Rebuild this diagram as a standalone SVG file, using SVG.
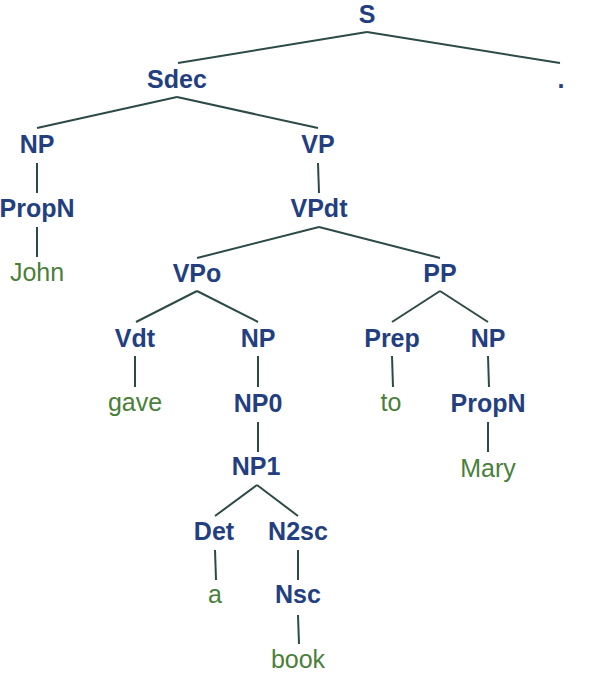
<svg xmlns="http://www.w3.org/2000/svg" width="595" height="681" viewBox="0 0 595 681">
<style>
.c{font-family:"Liberation Sans",Arial,sans-serif;font-size:25px;font-weight:bold;fill:#243f80;text-anchor:middle}
.w{font-family:"Liberation Sans",Arial,sans-serif;font-size:25px;fill:#4a7f3a;text-anchor:middle}
#edges line{stroke:#2c4a47;stroke-width:2;stroke-linecap:butt}
</style>
<rect width="595" height="681" fill="#ffffff"/>
<g id="edges">
<line x1="367" y1="32" x2="178" y2="63"/>
<line x1="367" y1="32" x2="560" y2="63"/>
<line x1="177" y1="97" x2="37" y2="128"/>
<line x1="177" y1="97" x2="318" y2="128"/>
<line x1="37" y1="163" x2="37" y2="193"/>
<line x1="318" y1="163" x2="319" y2="193"/>
<line x1="37" y1="227" x2="37" y2="257"/>
<line x1="319" y1="227" x2="197" y2="258"/>
<line x1="319" y1="227" x2="440" y2="258"/>
<line x1="197" y1="291" x2="136" y2="322"/>
<line x1="197" y1="291" x2="258" y2="322"/>
<line x1="440" y1="291" x2="392" y2="322"/>
<line x1="440" y1="291" x2="488" y2="322"/>
<line x1="135" y1="356" x2="135" y2="387"/>
<line x1="258" y1="356" x2="258" y2="387"/>
<line x1="392" y1="356" x2="393" y2="387"/>
<line x1="488" y1="356" x2="489" y2="387"/>
<line x1="258" y1="422" x2="258" y2="452"/>
<line x1="488" y1="422" x2="488" y2="452"/>
<line x1="257" y1="485" x2="215" y2="516"/>
<line x1="257" y1="485" x2="298" y2="516"/>
<line x1="215" y1="550" x2="216" y2="580"/>
<line x1="298" y1="550" x2="298" y2="580"/>
<line x1="298" y1="615" x2="299" y2="644"/>
</g>
<g id="n-S"><text class="c" x="367" y="23">S</text></g>
<g id="n-Sdec"><text class="c" x="177" y="88">Sdec</text></g>
<g id="n-dot"><text class="c" x="561" y="88">.</text></g>
<g id="n-NP1a"><text class="c" x="37" y="153">NP</text></g>
<g id="n-VP"><text class="c" x="318" y="153">VP</text></g>
<g id="n-PropN1"><text class="c" x="37" y="217">PropN</text></g>
<g id="n-VPdt"><text class="c" x="319" y="217">VPdt</text></g>
<g id="n-John"><text class="w" x="37" y="281">John</text></g>
<g id="n-VPo"><text class="c" x="197" y="282">VPo</text></g>
<g id="n-PP"><text class="c" x="440" y="282">PP</text></g>
<g id="n-Vdt"><text class="c" x="135" y="347">Vdt</text></g>
<g id="n-NP2"><text class="c" x="258" y="347">NP</text></g>
<g id="n-Prep"><text class="c" x="392" y="347">Prep</text></g>
<g id="n-NP3"><text class="c" x="488" y="347">NP</text></g>
<g id="n-gave"><text class="w" x="135" y="411">gave</text></g>
<g id="n-NP0"><text class="c" x="258" y="412">NP0</text></g>
<g id="n-to"><text class="w" x="391" y="411">to</text></g>
<g id="n-PropN2"><text class="c" x="488" y="412">PropN</text></g>
<g id="n-NP1"><text class="c" x="256" y="475">NP1</text></g>
<g id="n-Mary"><text class="w" x="488" y="477">Mary</text></g>
<g id="n-Det"><text class="c" x="214" y="540">Det</text></g>
<g id="n-N2sc"><text class="c" x="298" y="540">N2sc</text></g>
<g id="n-a"><text class="w" x="215" y="603">a</text></g>
<g id="n-Nsc"><text class="c" x="298" y="603">Nsc</text></g>
<g id="n-book"><text class="w" x="298" y="668">book</text></g>
</svg>
